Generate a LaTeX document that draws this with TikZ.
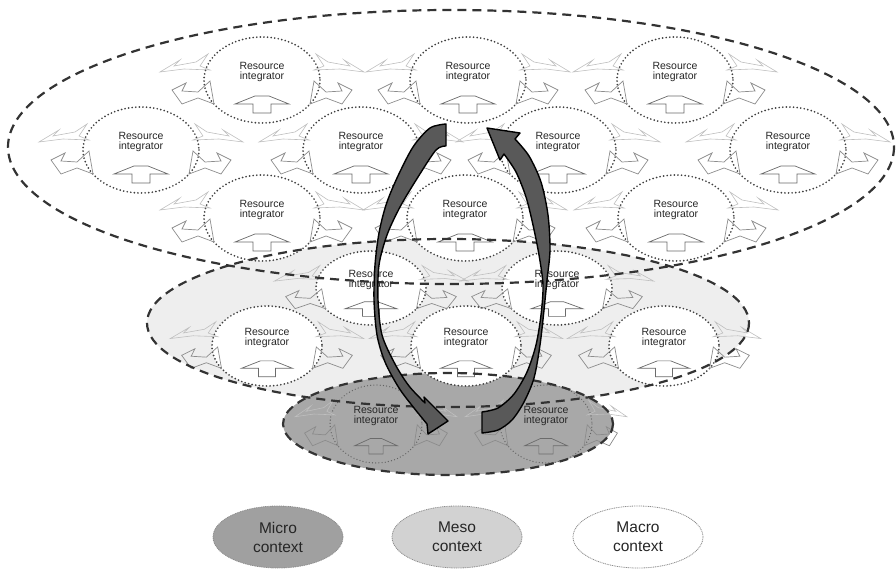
\documentclass[tikz,border=0pt]{standalone}
\usepackage{fontspec}
\setmainfont{Liberation Sans}
\usetikzlibrary{shapes.geometric}
\definecolor{mesofill}{HTML}{EEEEEE}
\definecolor{microfill}{HTML}{A8A8A8}
\definecolor{bigarrow}{HTML}{595959}
\definecolor{legmicro}{HTML}{A0A0A0}
\definecolor{legmeso}{HTML}{D2D2D2}
\tikzset{
  ctxline/.style={draw=black!80, line width=2.2pt, dash pattern=on 9pt off 6pt},
  ridots/.style={draw=black!75, line width=1.9pt, line cap=round, dash pattern=on 0pt off 3.6pt},
  ridotsmicro/.style={draw=black!62, line width=1.3pt, line cap=round, dash pattern=on 0pt off 3.2pt},
  riarrow/.style={draw=black!58, line width=0.7pt, line join=miter},
  handfaint/.style={draw=black!25, line width=0.6pt},
  handmain/.style={draw=black!45, line width=0.7pt},
  ritext/.style={align=center, inner sep=0pt, font=\fontsize{10.5}{9.5}\selectfont, text=black!85},
  cycarrow/.style={fill=bigarrow, draw=black, line width=1.4pt, line join=round},
  legendell/.style={ellipse, draw=black!45, line width=0.8pt, dash pattern=on 1pt off 0.8pt,
    minimum width=130pt, minimum height=62pt, inner sep=0pt, align=center,
    font=\fontsize{15.5}{19}\selectfont, text=black!85},
}
\newcommand\rihandpair{%
  \draw[handfaint] (-44,-8) -- (-24,-20) -- (-30,-14) -- (-8,-18) -- (4,-26) -- (-4,-14) -- (6,-10) -- (-20,-11) -- cycle;
  \draw[handmain] (-32,10) -- (-18,3) -- (-22,11) -- (-6,12) -- (6,1) -- (10,24) -- (-6,18) -- (-22,24) -- cycle;
}
\newcommand\riparts[4]{%
  \begin{scope}[shift={(#1,#2)}, xscale=#3/58, yscale=#4/43]
    \draw[riarrow] (-9,33) -- (-9,24) -- (-27,24) -- (-7,16) -- (7,16) -- (27,24) -- (9,24) -- (9,33) -- cycle;
    \begin{scope}[shift={(-58,0)}]\rihandpair\end{scope}
    \begin{scope}[shift={(58,0)}, xscale=-1]\rihandpair\end{scope}
  \end{scope}
}
\begin{document}
\begin{tikzpicture}[x=1pt,y=-1pt]
\useasboundingbox (0,0) rectangle (896,569);
% context fills
\fill[mesofill] (448,323) ellipse [x radius=301, y radius=84];
\fill[microfill] (448,424) ellipse [x radius=165, y radius=51];
% circles
\foreach \cx/\cy/\rx/\ry in {262/80/58/43, 468/80/58/43, 675/80/58/43,
  141/150/58/43, 361/150/58/43, 558/150/58/43, 788/150/58/43,
  262/218/58/43, 465/218/58/43, 676/218/58/43,
  371/288/55/37, 557/288/55/37, 267/346/55/40, 466/346/55/40, 664/346/55/40}
  {\draw[ridots, fill=white] (\cx,\cy) ellipse [x radius=\rx, y radius=\ry];}
\foreach \cx/\cy/\rx/\ry in {376/424/46/39, 546/424/46/39}
  {\draw[ridotsmicro] (\cx,\cy) ellipse [x radius=\rx, y radius=\ry];}
% inner arrows, hands and labels
\foreach \cx/\cy/\rx/\ry [count=\i] in {262/80/58/43, 468/80/58/43, 675/80/58/43,
  141/150/58/43, 361/150/58/43, 558/150/58/43, 788/150/58/43,
  262/218/58/43, 465/218/58/43, 676/218/58/43,
  371/288/55/37, 557/288/55/37, 267/346/55/40, 466/346/55/40, 664/346/55/40,
  376/424/46/39, 546/424/46/39}
  {\riparts{\cx}{\cy}{\rx}{\ry}
   \node[ritext] (ri\i) at (\cx,\cy-8) {Resource\\integrator};}
% context outlines
\draw[ctxline] (451,147) ellipse [x radius=443, y radius=137];
\draw[ctxline] (448,323) ellipse [x radius=301, y radius=84];
\draw[ctxline] (448,424) ellipse [x radius=165, y radius=51];
% big cycle arrows
\draw[cycarrow] plot[smooth] coordinates {(446,124) (430,128) (413,147) (397,178) (386,205) (379,233) (375,265) (374,300) (377,335) (385,362) (399,388) (414,408) (427,424)}
  -- (428,434) -- (448,421) -- (424,397)
  -- plot[smooth] coordinates {(425,403) (409,386) (395,364) (382,335) (378,300) (379,265) (387,235) (400,207) (418,177) (436,150) (446,146)} -- cycle;
\draw[cycarrow] plot[smooth] coordinates {(482,433) (498,430) (512,420) (524,402) (534,378) (540,345) (544,310) (547,280) (550,250) (548,215) (541,182) (529,156) (515,139)}
  -- (520,133) -- (487,128) -- (500,160)
  -- plot[smooth] coordinates {(504,154) (516,172) (526,197) (533,225) (539,255) (543,285) (541,315) (536,345) (527,372) (514,394) (498,408) (482,412)} -- cycle;
% legend
\node[legendell, fill=legmicro] (micro) at (278,537) {Micro\\context};
\node[legendell, fill=legmeso] (meso) at (457,537) {Meso\\context};
\node[legendell, fill=white] (macro) at (638,537) {Macro\\context};
\end{tikzpicture}
\end{document}
